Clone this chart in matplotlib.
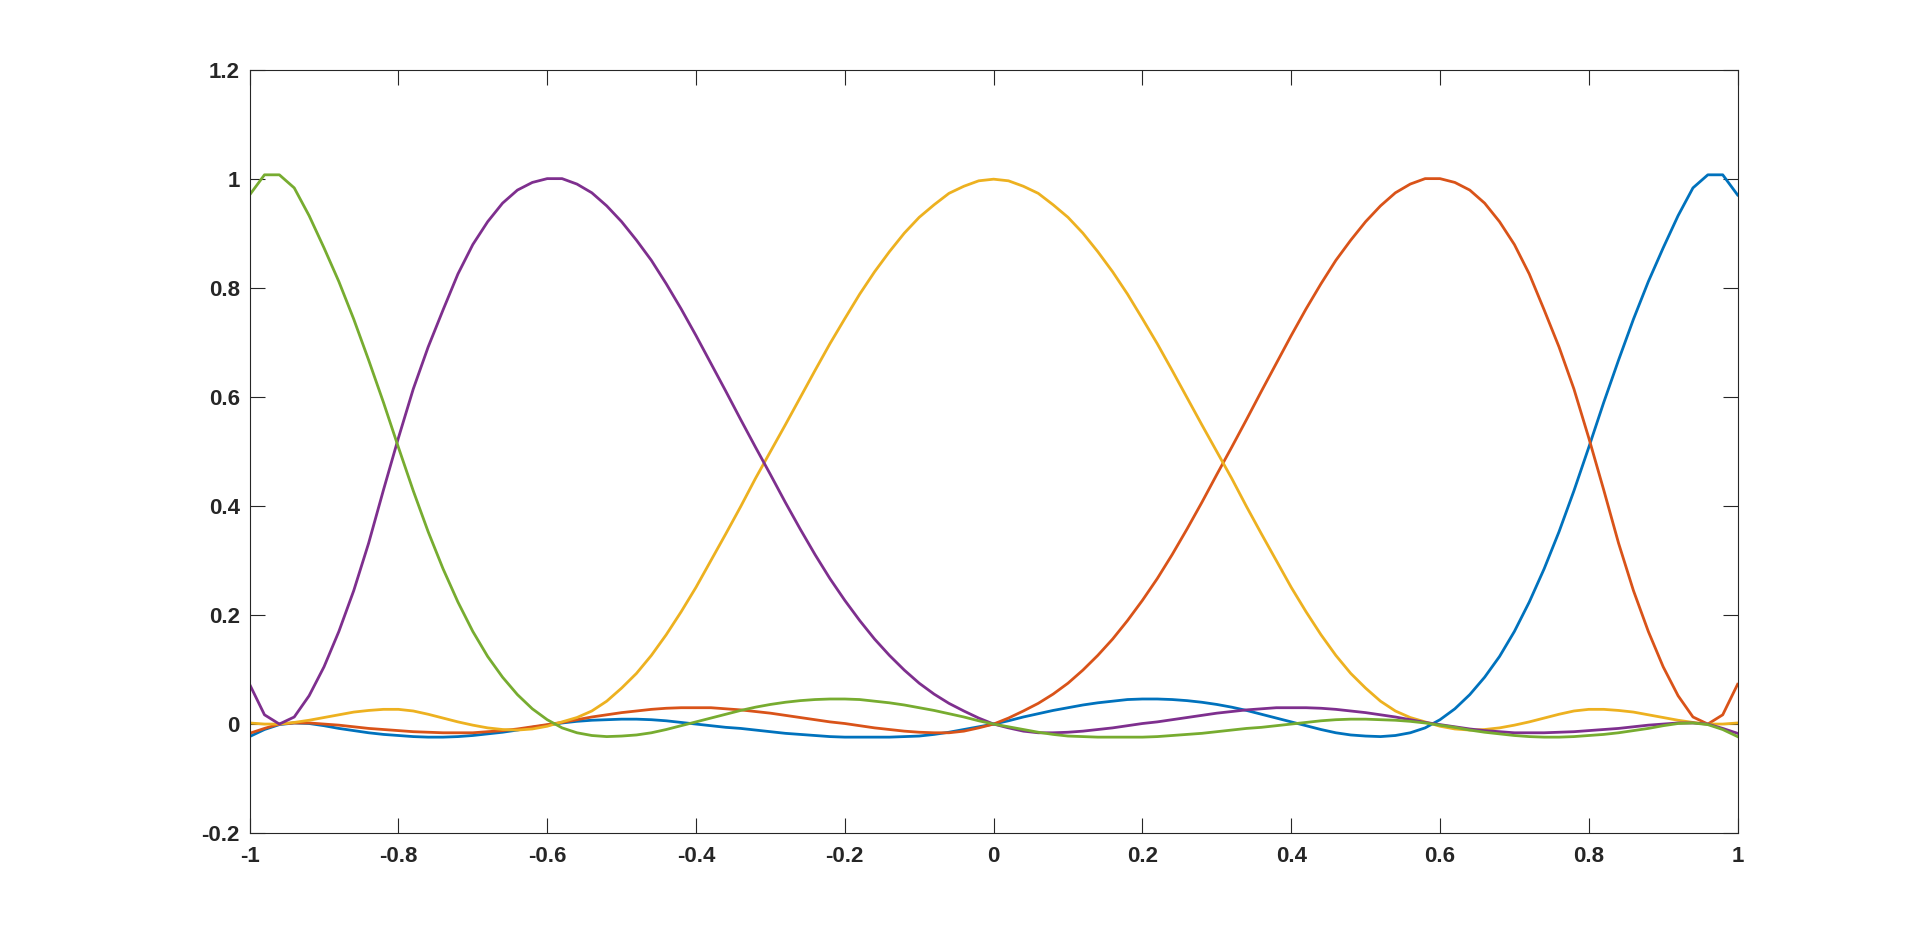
import numpy as np
import matplotlib
matplotlib.use("Agg")
import matplotlib.pyplot as plt

# sample positions (101 points, step 0.02)
x = np.linspace(-1, 1, 101)

# curve values, left to right
blue = [
    -0.023, -0.010, -0.001, 0.002, 0.001, -0.003, -0.008, -0.012, -0.016, -0.019,
    -0.021, -0.023, -0.024, -0.024, -0.023, -0.021, -0.018, -0.015, -0.011, -0.006,
    -0.002, 0.002, 0.005, 0.007, 0.008, 0.009, 0.009, 0.008, 0.006, 0.003,
    0.000, -0.003, -0.006, -0.008, -0.011, -0.014, -0.017, -0.019, -0.021, -0.023,
    -0.024, -0.024, -0.024, -0.024, -0.023, -0.022, -0.019, -0.015, -0.010, -0.005,
    0.000,
    0.006, 0.013, 0.019, 0.025, 0.030, 0.035, 0.039, 0.042, 0.045, 0.046,
    0.046, 0.045, 0.043, 0.040, 0.036, 0.031, 0.025, 0.018, 0.011, 0.004,
    -0.003, -0.010, -0.016, -0.020, -0.022, -0.023, -0.021, -0.016, -0.007, 0.008,
    0.028, 0.054, 0.086, 0.124, 0.170, 0.224, 0.285, 0.353, 0.428, 0.508,
    0.590, 0.668, 0.743, 0.812, 0.874, 0.933, 0.984, 1.008, 1.008, 0.971,
]

red = [
    -0.017, -0.008, 0.000, 0.002, 0.002, 0.000, -0.002, -0.005, -0.008, -0.010,
    -0.012, -0.014, -0.015, -0.016, -0.016, -0.016, -0.014, -0.012, -0.009, -0.005,
    -0.001, 0.003, 0.008, 0.013, 0.017, 0.021, 0.024, 0.027, 0.029, 0.030,
    0.030, 0.030, 0.028, 0.026, 0.023, 0.020, 0.016, 0.012, 0.008, 0.004,
    0.001, -0.003, -0.007, -0.010, -0.013, -0.015, -0.016, -0.016, -0.013, -0.007,
    0.000,
    0.011, 0.024, 0.038, 0.055, 0.075, 0.099, 0.126, 0.156, 0.190, 0.227,
    0.267, 0.311, 0.358, 0.407, 0.458, 0.508, 0.559, 0.611, 0.662, 0.713,
    0.762, 0.808, 0.851, 0.888, 0.922, 0.951, 0.975, 0.991, 1.001, 1.001,
    0.994, 0.980, 0.956, 0.922, 0.880, 0.826, 0.760, 0.692, 0.615, 0.525,
    0.430, 0.332, 0.245, 0.170, 0.105, 0.052, 0.013, 0.000, 0.017, 0.073,
]

yellow = [
    0.002, 0.000, 0.000, 0.003, 0.007, 0.012, 0.017, 0.022, 0.025, 0.027,
    0.027, 0.024, 0.018, 0.011, 0.004, -0.002, -0.007, -0.010, -0.011, -0.009,
    -0.004, 0.004, 0.012, 0.024, 0.042, 0.066, 0.093, 0.126, 0.164, 0.206,
    0.251, 0.300, 0.349, 0.399, 0.451, 0.500, 0.549, 0.599, 0.649, 0.698,
    0.744, 0.789, 0.830, 0.867, 0.901, 0.930, 0.953, 0.974, 0.987, 0.997,
    1.000,
    0.997, 0.987, 0.974, 0.953, 0.930, 0.901, 0.867, 0.830, 0.789, 0.744,
    0.698, 0.649, 0.599, 0.549, 0.500, 0.451, 0.399, 0.349, 0.300, 0.251,
    0.206, 0.164, 0.126, 0.093, 0.066, 0.042, 0.024, 0.012, 0.004, -0.004,
    -0.009, -0.011, -0.010, -0.007, -0.002, 0.004, 0.011, 0.018, 0.024, 0.027,
    0.027, 0.025, 0.022, 0.017, 0.012, 0.007, 0.003, 0.000, 0.000, 0.002,
]

purple = [
    0.073, 0.017, 0.000, 0.013, 0.052, 0.105, 0.170, 0.245, 0.332, 0.430,
    0.525, 0.615, 0.692, 0.760, 0.826, 0.880, 0.922, 0.956, 0.980, 0.994,
    1.001, 1.001, 0.991, 0.975, 0.951, 0.922, 0.888, 0.851, 0.808, 0.762,
    0.713, 0.662, 0.611, 0.559, 0.508, 0.458, 0.407, 0.358, 0.311, 0.267,
    0.227, 0.190, 0.156, 0.126, 0.099, 0.075, 0.055, 0.038, 0.024, 0.011,
    0.000,
    -0.007, -0.013, -0.016, -0.016, -0.015, -0.013, -0.010, -0.007, -0.003, 0.001,
    0.004, 0.008, 0.012, 0.016, 0.020, 0.023, 0.026, 0.028, 0.030, 0.030,
    0.030, 0.029, 0.027, 0.024, 0.021, 0.017, 0.013, 0.008, 0.003, -0.001,
    -0.005, -0.009, -0.012, -0.014, -0.016, -0.016, -0.016, -0.015, -0.014, -0.012,
    -0.010, -0.008, -0.005, -0.002, 0.000, 0.002, 0.002, 0.000, -0.008, -0.017,
]

green = [
    0.971, 1.008, 1.008, 0.984, 0.933, 0.874, 0.812, 0.743, 0.668, 0.590,
    0.508, 0.428, 0.353, 0.285, 0.224, 0.170, 0.124, 0.086, 0.054, 0.028,
    0.008, -0.007, -0.016, -0.021, -0.023, -0.022, -0.020, -0.016, -0.010, -0.003,
    0.004, 0.011, 0.018, 0.025, 0.031, 0.036, 0.040, 0.043, 0.045, 0.046,
    0.046, 0.045, 0.042, 0.039, 0.035, 0.030, 0.025, 0.019, 0.013, 0.006,
    0.000,
    -0.005, -0.010, -0.015, -0.019, -0.022, -0.023, -0.024, -0.024, -0.024, -0.024,
    -0.023, -0.021, -0.019, -0.017, -0.014, -0.011, -0.008, -0.006, -0.003, 0.000,
    0.003, 0.006, 0.008, 0.009, 0.009, 0.008, 0.007, 0.005, 0.002, -0.002,
    -0.006, -0.011, -0.015, -0.018, -0.021, -0.023, -0.024, -0.024, -0.023, -0.021,
    -0.019, -0.016, -0.012, -0.008, -0.003, 0.001, 0.002, -0.001, -0.010, -0.023,
]

x_ticks = [-1, -0.8, -0.6, -0.4, -0.2, 0, 0.2, 0.4, 0.6, 0.8, 1]
x_tick_labels = ["-1", "-0.8", "-0.6", "-0.4", "-0.2", "0", "0.2", "0.4", "0.6", "0.8", "1"]
y_ticks = [-0.2, 0, 0.2, 0.4, 0.6, 0.8, 1, 1.2]
y_tick_labels = ["-0.2", "0", "0.2", "0.4", "0.6", "0.8", "1", "1.2"]

# MATLAB default colour order
series = [
    (blue, "#0072BD"),
    (red, "#D95319"),
    (yellow, "#EDB120"),
    (purple, "#7E2F8E"),
    (green, "#77AC30"),
]

plt.rcParams["font.family"] = ["Liberation Sans", "DejaVu Sans"]
plt.rcParams["axes.unicode_minus"] = False

fig = plt.figure(figsize=(19.2, 9.36), dpi=100)
ax = fig.add_axes([0.13, 0.11, 0.775, 0.815])

for values, color in series:
    ax.plot(x, values, color=color, linewidth=2)

ax.set_xlim(-1, 1)
ax.set_ylim(-0.2, 1.2)
ax.set_xticks(x_ticks)
ax.set_xticklabels(x_tick_labels)
ax.set_yticks(y_ticks)
ax.set_yticklabels(y_tick_labels)

edge = "#262626"
for spine in ax.spines.values():
    spine.set_color(edge)
    spine.set_linewidth(0.8)
ax.tick_params(axis="both", direction="in", length=10.5, width=0.8, color=edge,
               labelcolor=edge, labelsize=16, top=True, right=True)
ax.tick_params(axis="x", pad=9)
ax.tick_params(axis="y", pad=7)
for lbl in ax.get_xticklabels() + ax.get_yticklabels():
    lbl.set_fontweight("bold")

fig.savefig("out.png", dpi=100)
plt.close(fig)
